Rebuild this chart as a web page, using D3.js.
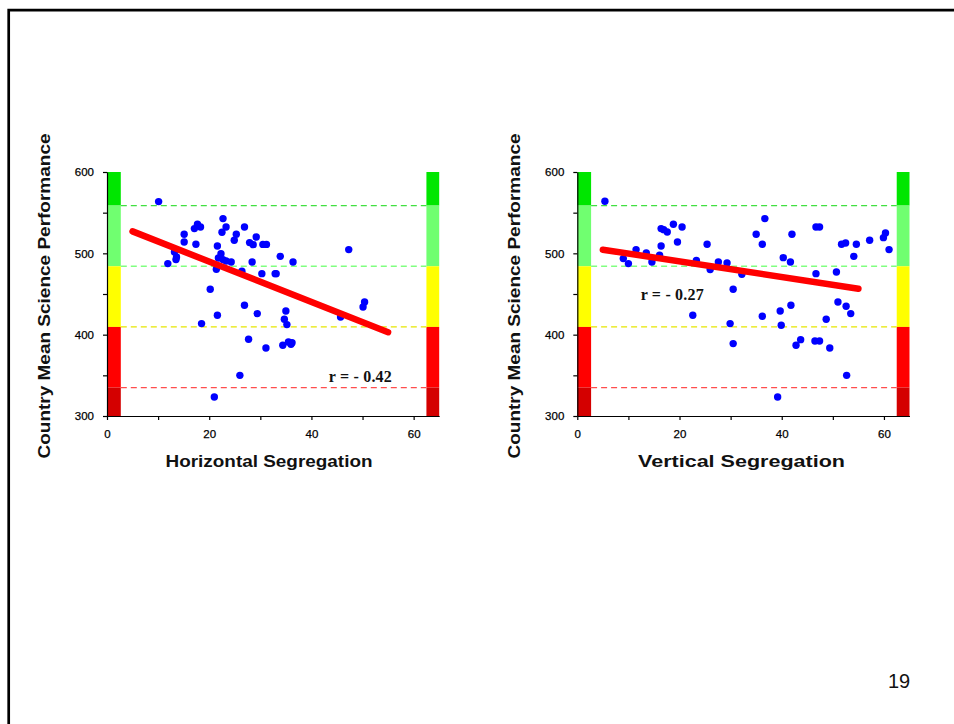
<!DOCTYPE html>
<html><head><meta charset="utf-8">
<script src="https://cdn.jsdelivr.net/npm/d3@7"></script>
<style>body{margin:0;background:#fff} svg{display:block}</style>
</head><body>
<svg id="c" width="954" height="724"></svg>
<script>
// ---- data ----
const horizSeg   = [10.1,22.7,17.7,17.1,18.3,23.3,22.5,26.9,15.1,25.3,24.9,29.2,15.1,27.9,28.6,30.5,31.2,17.4,21.6,13.2,13.6,13.5,22.3,21.8,22.7,23.3,24.3,11.9,28.4,21.4,26.4,30.3,32.9,20.2,26.9,21.6,29.4,18.5,27.7,31.1,26.0,21.0,33.9,36.4,33.1,47.3,35.0,34.7,35.2,45.7,50.4,50.1,34.4,35.5,36.2,36.0];
const horizScore = [563.6,542.7,535.7,530.4,532.4,532.4,525.9,532.4,523.4,523.4,516.0,520.1,513.9,513.2,510.7,511.0,511.0,511.1,509.0,501.6,495.5,492.3,499.6,494.3,492.3,490.6,489.4,487.4,489.4,480.4,477.9,475.0,475.0,455.8,436.1,423.8,425.9,413.6,394.3,383.6,350.0,323.3,496.3,489.3,475.0,504.6,429.1,418.9,412.4,421.7,440.2,434.0,386.9,391.0,390.2,388.1];
const vertSeg    = [5.4,16.4,16.9,17.6,18.8,20.5,19.6,16.4,25.4,11.5,13.5,9.0,10.0,16.1,14.6,23.3,27.6,29.3,26.0,22.6,36.7,35.0,36.2,42.0,46.7,47.4,40.3,41.7,51.7,52.5,54.6,57.2,59.9,60.3,61.0,54.1,32.2,46.7,50.7,30.5,51.0,52.6,53.5,41.8,39.7,36.2,48.7,29.9,39.9,30.5,42.8,43.7,46.5,47.4,49.4,52.7,39.2];
const vertScore  = [564.0,530.4,529.1,526.2,535.7,532.4,513.9,509.0,511.1,504.6,500.4,493.5,487.4,497.6,489.3,491.4,489.3,488.1,480.0,423.8,542.7,523.4,511.1,523.4,532.4,532.4,494.7,489.3,511.1,512.7,511.1,516.0,519.3,525.0,504.6,496.3,474.2,475.0,477.0,455.8,440.2,434.9,425.9,436.1,429.1,422.6,418.9,413.6,411.5,389.0,386.9,393.9,392.2,392.2,383.6,350.0,323.3];
const trendSeg   = [5, 55];
const horizTrend = [527, 403];
const vertTrend  = [504.5, 456.5];
const levelBreaks = [600, 558.7, 484.1, 409.5, 334.9, 300];
const bandColors  = ["#00e600", "#70ff70", "#ffff00", "#ff0000", "#d40000"];
const dashLevels  = [558.7, 484.1, 409.5, 334.9];
const dashColors  = ["#40e040", "#80ff80", "#e6e600", "#ff4d4d"];
const yTickValues = [300, 350, 400, 450, 500, 550, 600];
const yLabelValues = [300, 400, 500, 600];
const xTickValues = [0, 10, 20, 30, 40, 50, 60];
const xLabelValues = [0, 20, 40, 60];
const yTitle = "Country Mean Science Performance";
const xTitles = ["Horizontal Segregation", "Vertical Segregation"];
const rLabels = ["r = - 0.42", "r = - 0.27"];
const pageNumber = "19";

// ---- layout ----
const svg = d3.select("#c");
const FONT = "'Liberation Sans', Arial, Helvetica, sans-serif";

svg.append("path").attr("d", "M8.7,724 L8.7,10.2 L954,10.2")
  .attr("fill", "none").attr("stroke", "#000").attr("stroke-width", 2.7);

const panels = [
  {x0: 107, xs: horizSeg, ys: horizScore, trend: horizTrend, title: xTitles[0], titleX: 269, yTitleX: 50,
   r: rLabels[0], rx: 43.4, ry: 341.4},
  {x0: 577.3, xs: vertSeg, ys: vertScore, trend: vertTrend, title: xTitles[1], titleX: 741.5, yTitleX: 519.8,
   r: rLabels[1], rx: 12.4, ry: 442.3}
];

panels.forEach(p => {
  const x = d3.scaleLinear().domain([0, 65]).range([p.x0, p.x0 + 332.2]);
  const y = d3.scaleLinear().domain([300, 600]).range([416, 172]);
  const g = svg.append("g");

  // colour bands
  for (let i = 0; i < bandColors.length; i++) {
    [[0, 2.7], [62.5, 65]].forEach(([a, b]) => {
      g.append("rect")
        .attr("x", x(a)).attr("width", x(b) - x(a))
        .attr("y", y(levelBreaks[i])).attr("height", y(levelBreaks[i + 1]) - y(levelBreaks[i]))
        .attr("fill", bandColors[i]);
    });
  }
  // dashed level lines
  dashLevels.forEach((v, i) => {
    g.append("line").attr("x1", x(2.7)).attr("x2", x(62.5))
      .attr("y1", y(v)).attr("y2", y(v))
      .attr("stroke", dashColors[i]).attr("stroke-width", 1.3)
      .attr("stroke-dasharray", "6,4");
  });

  // points
  g.selectAll("circle.pt").data(p.xs.map((d, i) => [d, p.ys[i]])).join("circle")
    .attr("class", "pt")
    .attr("cx", d => x(d[0])).attr("cy", d => y(d[1])).attr("r", 3.7)
    .attr("fill", "#0000ff");

  // trend line
  g.append("line")
    .attr("x1", x(trendSeg[0])).attr("y1", y(p.trend[0]))
    .attr("x2", x(trendSeg[1])).attr("y2", y(p.trend[1]))
    .attr("stroke", "#ff0000").attr("stroke-width", 6.5).attr("stroke-linecap", "round");

  // axes
  const ya = d3.axisLeft(y).tickValues(yTickValues).tickSize(4).tickSizeOuter(0)
    .tickFormat(d => yLabelValues.includes(d) ? d : "");
  const yg = g.append("g").attr("transform", `translate(${p.x0},0)`).call(ya);
  const xa = d3.axisBottom(x).tickValues(xTickValues).tickSize(4).tickSizeOuter(0)
    .tickFormat(d => xLabelValues.includes(d) ? d : "");
  const xg = g.append("g").attr("transform", `translate(0,416)`).call(xa);
  [yg, xg].forEach(a => {
    a.selectAll("path,line").attr("stroke", "#000").attr("stroke-width", 1.2);
    a.selectAll("text").attr("font-family", FONT).attr("font-size", 11.5).attr("fill", "#000")
      .attr("stroke", "#000").attr("stroke-width", 0.25);
  });
  yg.selectAll("text").attr("x", -13);
  xg.selectAll("text").attr("y", 13.5);

  // titles
  g.append("text").attr("x", p.titleX).attr("y", 466.5).attr("text-anchor", "middle")
    .attr("font-family", FONT).attr("font-weight", "bold").attr("font-size", 17)
    .attr("textLength", 207).attr("lengthAdjust", "spacingAndGlyphs")
    .attr("fill", "#111").text(p.title);
  g.append("text").attr("transform", `translate(${p.yTitleX},296) rotate(-90)`)
    .attr("text-anchor", "middle")
    .attr("font-family", FONT).attr("font-weight", "bold").attr("font-size", 17)
    .attr("textLength", 325).attr("lengthAdjust", "spacingAndGlyphs")
    .attr("fill", "#111").text(yTitle);

  // r label
  g.append("text").attr("x", x(p.rx)).attr("y", y(p.ry))
    .attr("font-family", "'Liberation Serif', 'Times New Roman', serif").attr("font-weight", "bold")
    .attr("font-size", 16).attr("textLength", 63).attr("lengthAdjust", "spacing")
    .attr("fill", "#111").text(p.r);
});

svg.append("text").attr("x", 899).attr("y", 688).attr("text-anchor", "middle")
  .attr("font-family", FONT).attr("font-size", 20).attr("fill", "#111").text(pageNumber);
</script>
</body></html>
